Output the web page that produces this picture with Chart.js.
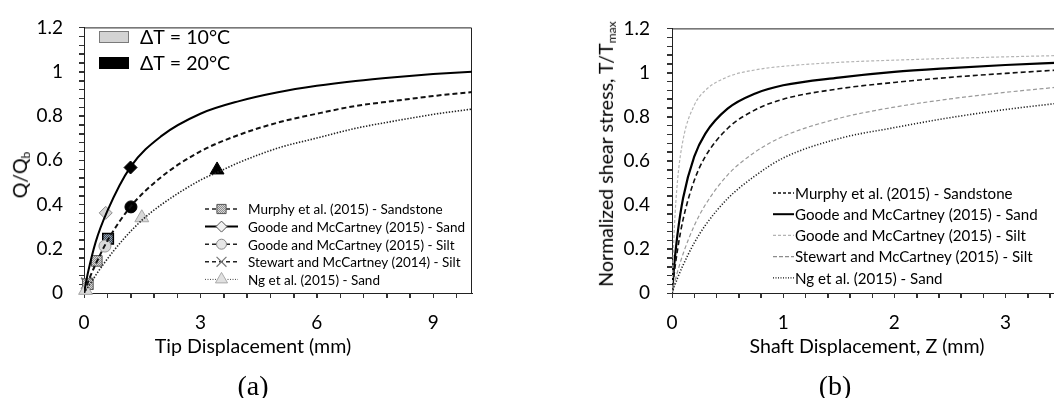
<!DOCTYPE html>
<html>
<head>
<meta charset="utf-8">
<script src="https://cdn.jsdelivr.net/npm/chart.js@4/dist/chart.umd.min.js"></script>
<style>
  html, body { margin: 0; padding: 0; background: #fff; }
  body { width: 1054px; height: 398px; overflow: hidden; position: relative; font-family: Lato, sans-serif; color: #000; }
  canvas { position: absolute; top: 0; }
  #chartA { left: 0; }
  #chartB { left: 520px; }
  .lbl { position: absolute; transform: translate(-50%, -50%); white-space: nowrap; line-height: 1; }
  .rot { transform: translate(-50%, -50%) rotate(-90deg); }
  .ttl { font-size: 19.6px; }
  .cap { font-family: "Liberation Serif", serif; font-size: 28px; }
  sub { font-size: 0.62em; vertical-align: -0.25em; }
</style>
</head>
<body>
<canvas id="chartA" width="510" height="398"></canvas>
<canvas id="chartB" width="560" height="398"></canvas>

<div class="lbl rot ttl" style="left:21px; top:175px;">Q/Q<sub>b</sub></div>
<div class="lbl ttl" style="left:253px; top:346px;">Tip Displacement (mm)</div>
<div class="lbl cap" style="left:253px; top:386px;">(a)</div>

<div class="lbl rot ttl" style="left:607px; top:154px;">Normalized shear stress, T/T<sub>max</sub></div>
<div class="lbl ttl" style="left:867px; top:346px;">Shaft Displacement, Z (mm)</div>
<div class="lbl cap" style="left:835px; top:386px;">(b)</div>

<script>
// ---------- (a) tip load vs tip displacement ----------
// fitted curves
const tipX_sand = [0, 0.1, 0.3, 0.6, 1.2, 2, 3, 4, 5, 6, 7, 8, 9, 10];
const tipQ_sand = [0, 0.09, 0.23, 0.37, 0.57, 0.71, 0.81, 0.867, 0.907, 0.936, 0.958, 0.975, 0.989, 1.0];
const tipX_silt = [0, 0.15, 0.3, 0.6, 1.2, 2, 3, 4, 5, 6, 7, 8, 9, 10];
const tipQ_silt = [0, 0.07, 0.13, 0.235, 0.39, 0.525, 0.64, 0.715, 0.77, 0.81, 0.845, 0.868, 0.89, 0.908];
const tipX_ng   = [0, 0.5, 1, 1.5, 2, 3, 3.5, 4, 5, 6, 7, 8, 9, 10];
const tipQ_ng   = [0, 0.13, 0.24, 0.33, 0.40, 0.51, 0.55, 0.59, 0.655, 0.70, 0.744, 0.777, 0.807, 0.831];

// measured points (ΔT = 10 °C and ΔT = 20 °C)
const murphyX10  = [0.1, 0.33];  const murphyQ10  = [0.04, 0.145];
const murphyX20  = [0.62];       const murphyQ20  = [0.245];
const sandX10    = [0.56];       const sandQ10    = [0.362];
const sandX20    = [1.2];        const sandQ20    = [0.567];
const siltX10    = [0.54];       const siltQ10    = [0.212];
const siltX20    = [1.21];       const siltQ20    = [0.389];
const stewartX   = [0.07, 0.09]; const stewartQ   = [0.044, 0.04];
const ngX10      = [0.04, 1.49]; const ngQ10      = [0.012, 0.34];
const ngX20      = [3.43];       const ngQ20      = [0.556];

const seriesNamesA = [
  'Murphy et al. (2015) - Sandstone',
  'Goode and McCartney (2015) - Sand',
  'Goode and McCartney (2015) - Silt',
  'Stewart and McCartney (2014) - Silt',
  'Ng et al. (2015) - Sand'
];
const deltaTLabels = ['ΔT = 10°C', 'ΔT = 20°C'];

// ---------- (b) shaft shear stress vs shaft displacement ----------
const shaftZ = [0, 0.02, 0.05, 0.1, 0.2, 0.3, 0.5, 0.75, 1, 1.5, 2, 2.5, 3, 3.5];
const tauMurphy  = [0, 0.089, 0.197, 0.334, 0.51, 0.619, 0.746, 0.831, 0.879, 0.926, 0.955, 0.978, 0.996, 1.012];
const tauSand    = [0, 0.126, 0.268, 0.431, 0.618, 0.723, 0.836, 0.905, 0.942, 0.977, 1.003, 1.02, 1.034, 1.045];
const tauSilt    = [0, 0.283, 0.51, 0.696, 0.851, 0.919, 0.98, 1.012, 1.028, 1.046, 1.056, 1.064, 1.071, 1.077];
const tauStewart = [0, 0.041, 0.097, 0.178, 0.305, 0.40, 0.535, 0.64, 0.71, 0.792, 0.843, 0.88, 0.91, 0.935];
const tauNg      = [0, 0.028, 0.068, 0.127, 0.227, 0.307, 0.428, 0.532, 0.612, 0.70, 0.75, 0.795, 0.832, 0.862];

const seriesNamesB = [
  'Murphy et al. (2015) - Sandstone',
  'Goode and McCartney (2015) - Sand',
  'Goode and McCartney (2015) - Silt',
  'Stewart and McCartney (2015) - Silt',
  'Ng et al. (2015) - Sand'
];

// axis ticks: labelled majors, unlabelled minors in between
const yMajor = [0, 0.2, 0.4, 0.6, 0.8, 1, 1.2];
const yMinorPerMajor = 5;
const xMajorA = [0, 3, 6, 9];
const xMinorStepA = 0.6;
const xMaxA = 10;
const xMajorB = [0, 1, 2, 3];
const xMinorStepB = 0.2;
const xMaxB = 3.5;

// ---------- helpers ----------
const zip = (xs, ys) => xs.map((x, i) => ({ x: x, y: ys[i] }));

function buildTicks(step, max, majors) {
  const out = [];
  const n = Math.floor(max / step + 1e-9);
  for (let i = 0; i <= n; i++) {
    const v = Math.round(i * step * 1000) / 1000;
    out.push({ value: v, major: majors.includes(v) });
  }
  return out;
}
const yTicks = buildTicks(yMajor[1] / yMinorPerMajor, yMajor[yMajor.length - 1], yMajor);
const xTicksA = buildTicks(xMinorStepA, xMaxA, xMajorA);
const xTicksB = buildTicks(xMinorStepB, xMaxB, xMajorB);

function hatch(bg, fg) {
  const c = document.createElement('canvas');
  c.width = 4; c.height = 4;
  const g = c.getContext('2d');
  g.fillStyle = bg; g.fillRect(0, 0, 4, 4);
  g.fillStyle = fg;
  for (let x = 0; x < 4; x++) for (let y = 0; y < 4; y++) if ((x + y) % 2 === 0) g.fillRect(x, y, 1, 1);
  return g.createPattern(c, 'repeat');
}
const hatchGray = hatch('#d6d6d6', '#8d8d8d');
const hatchDark = hatch('#3a4a5c', '#9aa3ad');

Chart.defaults.font.family = 'Lato, sans-serif';
Chart.defaults.color = '#000';

function drawMarker(ctx, style, x, y, r, fill, stroke, lw) {
  ctx.save();
  ctx.fillStyle = fill; ctx.strokeStyle = stroke; ctx.lineWidth = lw;
  ctx.setLineDash([]);
  ctx.beginPath();
  if (style === 'rect') {
    const s = r * Math.SQRT1_2;
    ctx.rect(x - s, y - s, 2 * s, 2 * s);
  } else if (style === 'rectRot') {
    ctx.moveTo(x - r, y); ctx.lineTo(x, y - r); ctx.lineTo(x + r, y); ctx.lineTo(x, y + r); ctx.closePath();
  } else if (style === 'triangle') {
    ctx.moveTo(x, y - r);
    ctx.lineTo(x + Math.sin(2 * Math.PI / 3) * r, y + r / 2);
    ctx.lineTo(x - Math.sin(2 * Math.PI / 3) * r, y + r / 2);
    ctx.closePath();
  } else if (style === 'crossRot') {
    const s = r * Math.SQRT1_2;
    ctx.moveTo(x - s, y - s); ctx.lineTo(x + s, y + s);
    ctx.moveTo(x + s, y - s); ctx.lineTo(x - s, y + s);
    ctx.stroke(); ctx.restore(); return;
  } else {
    ctx.arc(x, y, r, 0, Math.PI * 2);
  }
  ctx.fill(); ctx.stroke();
  ctx.restore();
}

// legend made of short line samples (with optional marker) and text
const sampleLegend = {
  id: 'sampleLegend',
  afterDraw(chart, args, opts) {
    if (!opts.items) return;
    const ctx = chart.ctx;
    ctx.save();
    opts.items.forEach((it, i) => {
      const y = opts.y + i * opts.rowHeight;
      ctx.save();
      ctx.strokeStyle = it.color; ctx.lineWidth = it.width; ctx.setLineDash(it.dash || []);
      ctx.beginPath(); ctx.moveTo(opts.x0, y); ctx.lineTo(opts.x1, y); ctx.stroke();
      ctx.restore();
      if (it.marker) drawMarker(ctx, it.marker, (opts.x0 + opts.x1) / 2, y, it.radius, it.fill, it.stroke, it.lw || 1);
      ctx.fillStyle = '#000';
      ctx.font = opts.fontSize + 'px Lato, sans-serif';
      ctx.textBaseline = 'middle';
      ctx.textAlign = 'left';
      ctx.fillText(it.label, opts.textX, y + 1);
    });
    if (opts.boxes) {
      opts.boxes.forEach(b => {
        ctx.fillStyle = b.fill; ctx.strokeStyle = b.stroke; ctx.lineWidth = 1;
        ctx.fillRect(b.x, b.y, b.w, b.h); ctx.strokeRect(b.x + 0.5, b.y + 0.5, b.w - 1, b.h - 1);
        ctx.fillStyle = '#000';
        ctx.font = opts.boxFontSize + 'px Lato, sans-serif';
        ctx.textBaseline = 'middle'; ctx.textAlign = 'left';
        ctx.fillText(b.label, b.x + b.w + 11, b.y + b.h / 2 + 1);
      });
    }
    ctx.restore();
  }
};

// outline of the plotting area and outward tick marks on both axes
const plotFrame = {
  id: 'plotFrame',
  beforeDatasetsDraw(chart) {
    const { left, top, right, bottom } = chart.chartArea;
    const ctx = chart.ctx;
    ctx.save();
    ctx.strokeStyle = '#222'; ctx.lineWidth = 1;
    ctx.beginPath();
    ctx.moveTo(left, top + 0.5); ctx.lineTo(right - 0.5, top + 0.5); ctx.lineTo(right - 0.5, bottom);
    ctx.stroke();
    const xs = chart.scales.x, ys = chart.scales.y, len = 5;
    ctx.strokeStyle = '#333';
    ctx.beginPath();
    xs.ticks.forEach(t => {
      const px = Math.round(xs.getPixelForValue(t.value)) + 0.5;
      ctx.moveTo(px, bottom); ctx.lineTo(px, bottom + len);
    });
    ys.ticks.forEach(t => {
      const py = Math.round(ys.getPixelForValue(t.value)) + 0.5;
      ctx.moveTo(left - len, py); ctx.lineTo(left, py);
    });
    ctx.stroke();
    ctx.restore();
  }
};

function yAxis(width, pad) {
  return {
    type: 'linear', min: 0, max: 1.2,
    afterBuildTicks: s => { s.ticks = yTicks.map(t => ({ value: t.value })); },
    afterFit: s => { s.width = width; },
    ticks: {
      autoSkip: false, padding: pad, font: { size: 19 }, color: '#000',
      callback: (v, i) => yTicks[i].major ? String(yTicks[i].value) : ''
    },
    grid: { drawOnChartArea: false, drawTicks: true, tickLength: 5, color: '#333', tickColor: '#333', tickWidth: 1 },
    border: { color: '#222', width: 1 }
  };
}
function xAxis(ticksList, max) {
  return {
    type: 'linear', min: 0, max: max,
    afterBuildTicks: s => { s.ticks = ticksList.map(t => ({ value: t.value })); },
    afterFit: s => { s.height = 40; },
    ticks: {
      autoSkip: false, maxRotation: 0, padding: 13, font: { size: 19 }, color: '#000',
      callback: (v, i) => ticksList[i].major ? String(ticksList[i].value) : ''
    },
    grid: { drawOnChartArea: false, drawTicks: true, tickLength: 5, color: '#333', tickColor: '#333', tickWidth: 1 },
    border: { color: '#222', width: 1 }
  };
}

function curve(xs, ys, color, width, dash) {
  return {
    data: zip(xs, ys), showLine: true, pointRadius: 0, pointHoverRadius: 0,
    borderColor: color, borderWidth: width, borderDash: dash,
    cubicInterpolationMode: 'monotone', fill: false
  };
}
function marks(xs, ys, style, r, fill, stroke, lw) {
  return {
    data: zip(xs, ys), showLine: false, pointStyle: style, pointRadius: r, pointHoverRadius: r,
    pointBackgroundColor: fill, pointBorderColor: stroke, pointBorderWidth: lw, clip: false
  };
}

// ---------- chart (a) ----------
new Chart(document.getElementById('chartA'), {
  type: 'scatter',
  data: {
    datasets: [
      curve(tipX_silt, tipQ_silt, '#111', 2, [5, 3]),
      curve(tipX_ng, tipQ_ng, '#222', 1.6, [1.4, 1.6]),
      curve(tipX_sand, tipQ_sand, '#000', 2, []),
      marks(ngX10, ngQ10, 'triangle', 8, '#d9d9d9', '#a6a6a6', 1),
      marks(ngX20, ngQ20, 'triangle', 8, '#000', '#000', 1),
      marks(murphyX10, murphyQ10, 'rect', 7.5, hatchGray, '#555', 1),
      marks(siltX10, siltQ10, 'circle', 6, '#d9d9d9', '#999', 1),
      marks(murphyX20, murphyQ20, 'rect', 7.5, hatchDark, '#000', 1.5),
      marks(siltX20, siltQ20, 'circle', 6, '#000', '#000', 1),
      marks(sandX10, sandQ10, 'rectRot', 6.5, '#d4d4d4', '#8a8a8a', 1),
      marks(sandX20, sandQ20, 'rectRot', 6.5, '#000', '#000', 1),
      marks(stewartX, stewartQ, 'crossRot', 8, '#808080', '#7a7a7a', 1.6)
    ]
  },
  options: {
    responsive: false, animation: false, events: [],
    layout: { padding: { left: 0, right: 38, top: 18, bottom: 65 } },
    plugins: {
      legend: { display: false }, tooltip: { enabled: false },
      sampleLegend: {
        x0: 205, x1: 238, textX: 248, y: 209, rowHeight: 17.6, fontSize: 13.5,
        items: [
          { label: seriesNamesA[0], color: '#222', width: 1.5, dash: [4, 3], marker: 'rect', radius: 6.5, fill: hatchGray, stroke: '#555' },
          { label: seriesNamesA[1], color: '#000', width: 2, dash: [], marker: 'rectRot', radius: 5.5, fill: '#f2f2f2', stroke: '#555' },
          { label: seriesNamesA[2], color: '#222', width: 1.5, dash: [4, 3], marker: 'circle', radius: 5, fill: '#e6e6e6', stroke: '#888' },
          { label: seriesNamesA[3], color: '#222', width: 1.5, dash: [4, 3], marker: 'crossRot', radius: 7, fill: '#888', stroke: '#777', lw: 1.2 },
          { label: seriesNamesA[4], color: '#444', width: 1, dash: [1, 1.5], marker: 'triangle', radius: 7, fill: '#e0e0e0', stroke: '#aaa' }
        ],
        boxFontSize: 19.6,
        boxes: [
          { x: 99, y: 31, w: 30, h: 12, fill: '#d3d3d3', stroke: '#7a7a7a', label: deltaTLabels[0] },
          { x: 99, y: 57, w: 30, h: 12, fill: '#000', stroke: '#000', label: deltaTLabels[1] }
        ]
      }
    },
    scales: { x: xAxis(xTicksA, xMaxA), y: yAxis(84, 16) }
  },
  plugins: [sampleLegend, plotFrame]
});

// ---------- chart (b) ----------
new Chart(document.getElementById('chartB'), {
  type: 'scatter',
  data: {
    datasets: [
      curve(shaftZ, tauNg, '#222', 1.6, [1.2, 1.8]),
      curve(shaftZ, tauStewart, '#9a9a9a', 1.2, [4, 2.5]),
      curve(shaftZ, tauSilt, '#b4b4b4', 1.2, [3, 2]),
      curve(shaftZ, tauMurphy, '#111', 1.6, [5, 3]),
      curve(shaftZ, tauSand, '#000', 2.2, [])
    ]
  },
  options: {
    responsive: false, animation: false, events: [],
    layout: { padding: { left: 0, right: 19, top: 18, bottom: 65 } },
    plugins: {
      legend: { display: false }, tooltip: { enabled: false },
      sampleLegend: {
        x0: 253, x1: 274, textX: 275, y: 193, rowHeight: 21.2, fontSize: 15.1,
        items: [
          { label: seriesNamesB[0], color: '#111', width: 1.3, dash: [3, 2] },
          { label: seriesNamesB[1], color: '#000', width: 2, dash: [] },
          { label: seriesNamesB[2], color: '#b4b4b4', width: 1.2, dash: [3, 2] },
          { label: seriesNamesB[3], color: '#8c8c8c', width: 1.1, dash: [4, 2] },
          { label: seriesNamesB[4], color: '#111', width: 1.3, dash: [1, 1.5] }
        ]
      }
    },
    scales: { x: xAxis(xTicksB, xMaxB), y: yAxis(152, 17) }
  },
  plugins: [sampleLegend, plotFrame]
});
</script>
</body>
</html>
